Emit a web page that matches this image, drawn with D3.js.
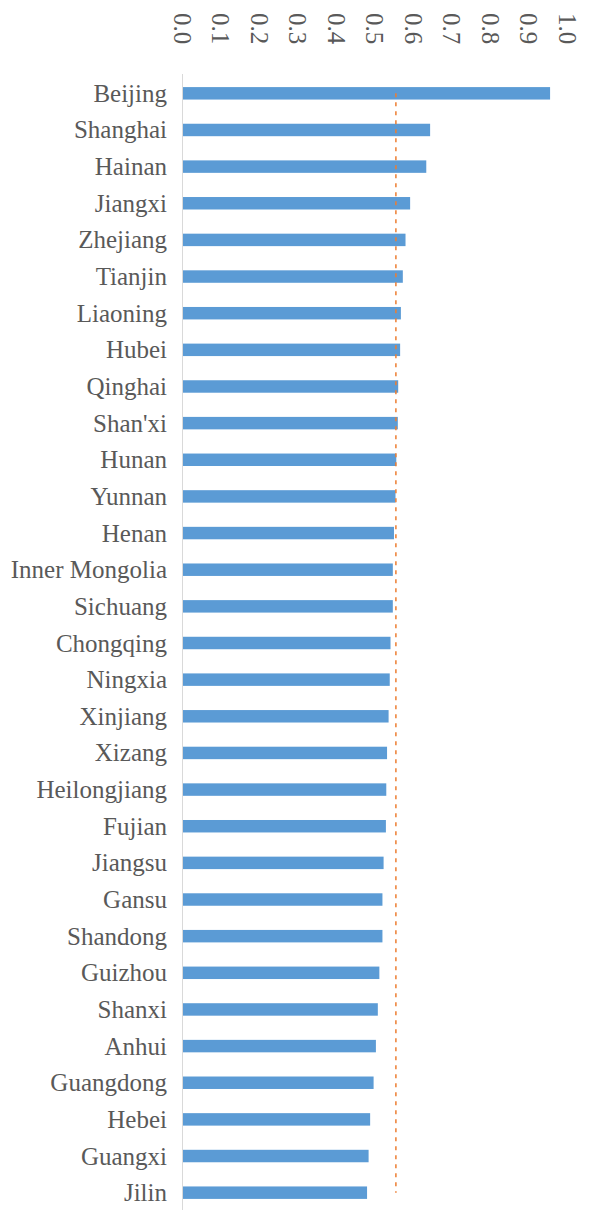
<!DOCTYPE html>
<html>
<head>
<meta charset="UTF-8">
<script src="https://cdn.jsdelivr.net/npm/d3@7"></script>
<style>
body{
  margin:0;
  background-color:#fff;
}
text{
  font-family:"Liberation Serif","Times New Roman",Times,"DejaVu Serif",serif;
}
</style>
</head>
<body>
<script>
// provinces, top to bottom
var provinces = ["Beijing","Shanghai","Hainan","Jiangxi","Zhejiang","Tianjin","Liaoning","Hubei",
  "Qinghai","Shan'xi","Hunan","Yunnan","Henan","Inner Mongolia","Sichuang","Chongqing","Ningxia",
  "Xinjiang","Xizang","Heilongjiang","Fujian","Jiangsu","Gansu","Shandong","Guizhou","Shanxi",
  "Anhui","Guangdong","Hebei","Guangxi","Jilin"]

var values = [0.956,0.644,0.634,0.592,0.580,0.573,0.568,0.566,
  0.561,0.560,0.556,0.554,0.550,0.547,0.547,0.541,0.539,
  0.536,0.532,0.530,0.529,0.523,0.520,0.520,0.512,0.508,
  0.503,0.497,0.488,0.484,0.480]

// dashed reference line
var meanValue = 0.555

var ticks = [0,0.1,0.2,0.3,0.4,0.5,0.6,0.7,0.8,0.9,1.0]

var width = 592
var height = 1216

var svg = d3.select('body')
    .append('svg')
    .attr('width', width)
    .attr('height', height)

var x = d3.scaleLinear().domain([0,1]).range([182.5, 567])

var y = d3.scaleBand().domain(provinces).range([75, 1211]).paddingInner(0.66).paddingOuter(0.33)

// tick labels at the top, turned on their side
svg.selectAll('.tick')
  .data(ticks)
  .enter().append('text')
    .attr('class','tick')
    .attr('transform', d => 'translate(' + x(d) + ',13) rotate(90)')
    .attr('text-anchor','start')
    .attr('dominant-baseline','central')
    .attr('font-size',25)
    .attr('fill','#595959')
    .text(d => d.toFixed(1))

// category axis line
svg.append('line')
  .attr('x1', x(0)).attr('x2', x(0))
  .attr('y1', 74).attr('y2', 1210)
  .attr('stroke','#d9d9d9')
  .attr('stroke-width',1)

svg.selectAll('.bar')
  .data(values)
  .enter().append('rect')
    .attr('class','bar')
    .attr('x', x(0) + 0.5)
    .attr('y', (d,i) => y(provinces[i]))
    .attr('width', d => x(d) - x(0) - 0.5)
    .attr('height', y.bandwidth())
    .attr('fill','#5b9bd5')

svg.selectAll('.label')
  .data(provinces)
  .enter().append('text')
    .attr('class','label')
    .attr('x', 167)
    .attr('y', d => y(d) + y.bandwidth()/2)
    .attr('text-anchor','end')
    .attr('dominant-baseline','central')
    .attr('font-size',25)
    .attr('fill','#595959')
    .text(d => d)

svg.append('line')
  .attr('x1', x(meanValue)).attr('x2', x(meanValue))
  .attr('y1', y(provinces[0]) + y.bandwidth()/2)
  .attr('y2', y(provinces[provinces.length-1]) + y.bandwidth()/2)
  .attr('stroke','#ed7d31')
  .attr('stroke-width',1.5)
  .attr('stroke-dasharray','4,5')
</script>
</body>
</html>
